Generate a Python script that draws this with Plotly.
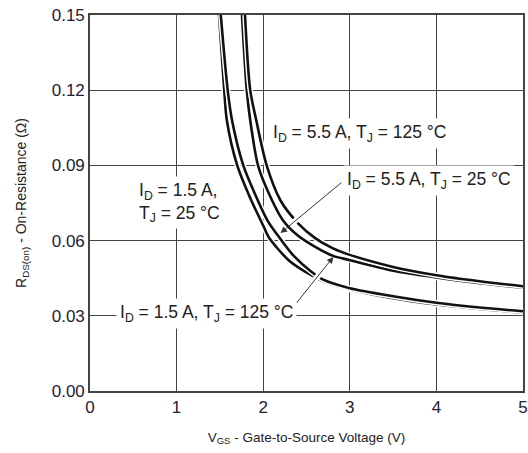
import plotly.graph_objects as go

# ---- data ----
vgs_25_15 = [1.49, 1.55, 1.58, 1.70, 1.85, 2.00, 2.07, 2.30, 2.54, 2.70, 3.00, 3.50, 4.00, 4.50, 5.00]
rds_25_15 = [0.150, 0.120, 0.108, 0.090, 0.077, 0.066, 0.061, 0.052, 0.0465, 0.0437, 0.0405, 0.0370, 0.0345, 0.0327, 0.0313]

vgs_25_55 = [1.51, 1.59, 1.64, 1.77, 1.90, 2.05, 2.17, 2.35, 2.56, 2.70, 3.00, 3.50, 4.00, 4.50, 5.00]
rds_25_55 = [0.150, 0.120, 0.108, 0.090, 0.079, 0.068, 0.062, 0.054, 0.0475, 0.0443, 0.0410, 0.0378, 0.0352, 0.0333, 0.0318]

vgs_125_15 = [1.755, 1.81, 1.85, 1.94, 2.05, 2.23, 2.40, 2.60, 2.80, 3.00, 3.50, 4.00, 4.50, 5.00]
rds_125_15 = [0.150, 0.120, 0.108, 0.090, 0.080, 0.068, 0.062, 0.0575, 0.0540, 0.0522, 0.0480, 0.0453, 0.0430, 0.0412]

vgs_125_55 = [1.79, 1.85, 1.92, 2.04, 2.20, 2.40, 2.60, 2.80, 3.00, 3.50, 4.00, 4.50, 5.00]
rds_125_55 = [0.150, 0.120, 0.108, 0.090, 0.076, 0.067, 0.061, 0.0570, 0.0543, 0.0495, 0.0462, 0.0438, 0.0418]

x_ticks = [0, 1, 2, 3, 4, 5]
y_ticks = [0.00, 0.03, 0.06, 0.09, 0.12, 0.15]

# labels: text, x, y, anchor
label_texts = ["I<sub>D</sub> = 5.5 A, T<sub>J</sub> = 125 °C",
               "I<sub>D</sub> = 1.5 A,<br>T<sub>J</sub> = 25 °C",
               "I<sub>D</sub> = 5.5 A, T<sub>J</sub> = 25 °C",
               "I<sub>D</sub> = 1.5 A, T<sub>J</sub> = 125 °C"]
label_x = [3.11, 0.52, 3.91, 1.34]
label_y = [0.1029, 0.0752, 0.0839, 0.0311]
label_anchor = ["center", "left", "center", "center"]

# arrows: tail -> tip
arrow_tail_x = [2.92, 2.37]
arrow_tail_y = [0.0836, 0.0345]
arrow_tip_x = [2.20, 2.81]
arrow_tip_y = [0.0630, 0.0535]

fig = go.Figure()

curves = [(vgs_25_15, rds_25_15), (vgs_25_55, rds_25_55),
          (vgs_125_15, rds_125_15), (vgs_125_55, rds_125_55)]
for xs, ys in curves:
    fig.add_trace(go.Scatter(x=xs, y=ys, mode="lines",
                             line=dict(color="white", width=5.5, shape="spline", smoothing=0.8),
                             hoverinfo="skip", showlegend=False))
    fig.add_trace(go.Scatter(x=xs, y=ys, mode="lines",
                             line=dict(color="#111111", width=2.6, shape="spline", smoothing=0.8),
                             showlegend=False))

# white halo under arrows (gaps in curves)
for tx, ty, hx, hy in zip(arrow_tail_x, arrow_tail_y, arrow_tip_x, arrow_tip_y):
    ex = tx + 0.82 * (hx - tx)
    ey = ty + 0.82 * (hy - ty)
    fig.add_shape(type="line", x0=tx, y0=ty, x1=ex, y1=ey, xref="x", yref="y",
                  line=dict(color="white", width=6), layer="above")
    fig.add_annotation(x=hx, y=hy, ax=tx, ay=ty, xref="x", yref="y", axref="x", ayref="y",
                       text="", showarrow=True, arrowhead=2, arrowsize=1.3, arrowwidth=1,
                       arrowcolor="#333333", standoff=0)

for t, x, y, an in zip(label_texts, label_x, label_y, label_anchor):
    fig.add_annotation(x=x, y=y, xref="x", yref="y", text=t, showarrow=False,
                       align=an, xanchor=an, bgcolor="white", borderpad=3,
                       font=dict(size=17.5, color="#222222"))

fig.update_xaxes(range=[0, 5], tickvals=x_ticks, ticktext=[str(v) for v in x_ticks],
                 showgrid=True, gridcolor="#444444", gridwidth=1.4,
                 showline=True, linecolor="#444444", linewidth=1.6, mirror=True,
                 zeroline=False, ticks="", automargin=False,
                 tickfont=dict(size=17, color="#222233"),
                 title=dict(text="V<sub>GS</sub> - Gate-to-Source Voltage (V)",
                            font=dict(size=13.5, color="#222222"), standoff=16))
fig.update_yaxes(range=[0, 0.15], tickvals=y_ticks, tickformat=".2f",
                 showgrid=True, gridcolor="#444444", gridwidth=1.4,
                 showline=True, linecolor="#444444", linewidth=1.6, mirror=True,
                 zeroline=False, ticks="", automargin=False,
                 tickfont=dict(size=17, color="#222233"),
                 title=dict(text="R<sub>DS(on)</sub> - On-Resistance (Ω)",
                            font=dict(size=14, color="#222222"), standoff=22))

fig.update_layout(width=528, height=453, margin=dict(l=90, r=5, t=15, b=62, autoexpand=False),
                  plot_bgcolor="white", paper_bgcolor="white",
                  font=dict(family="Liberation Sans, Arial, sans-serif"),
                  showlegend=False)

fig.write_html("out.html", config={"displayModeBar": False},
               post_script="document.body.style.margin='0';")
